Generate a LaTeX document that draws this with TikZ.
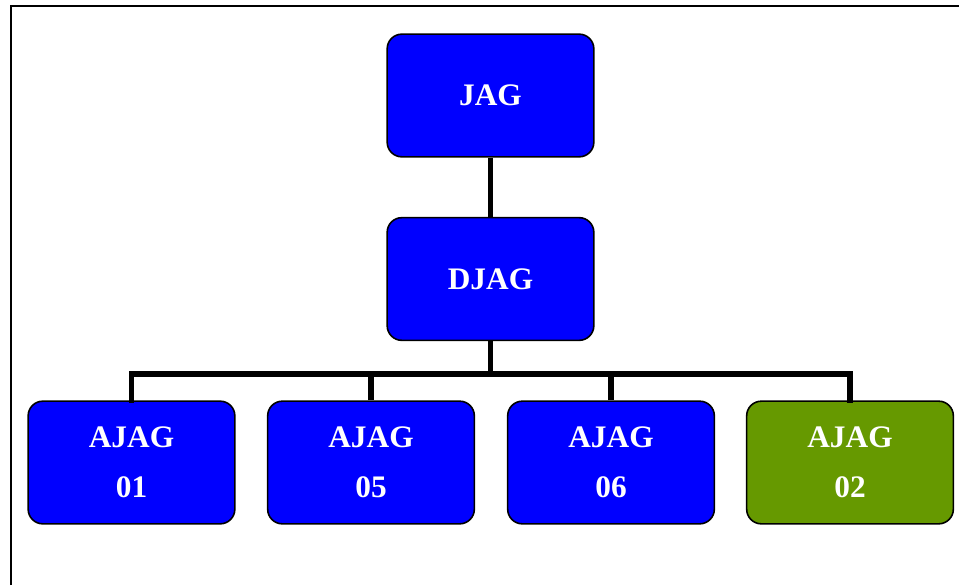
\documentclass[tikz,border=0pt]{standalone}
\usepackage{fontspec}
\setmainfont{Liberation Serif}
\begin{document}
\begin{tikzpicture}[x=0.75pt,y=-0.75pt,
  box/.style={draw=black,line width=1.2pt,rounded corners=11pt,minimum width=155pt,minimum height=92pt,inner sep=0pt,
    text=white,font=\fontsize{23.5}{37.5}\selectfont\bfseries,align=center},
  bluebox/.style={box,fill=blue},
  greenbox/.style={box,fill={rgb,255:red,102;green,153;blue,0}},
  conn/.style={line width=3.8pt}]
\useasboundingbox (0,0) rectangle (959,585);
\draw[line width=1.8pt] (11,585) -- (11,6) -- (959,6);
\node[bluebox] (jag) at (490.5,95.5) {JAG};
\node[bluebox] (djag) at (490.5,279) {DJAG};
\node[bluebox] (a1) at (131.5,462.5) {AJAG\\01};
\node[bluebox] (a5) at (371,462.5) {AJAG\\05};
\node[bluebox] (a6) at (611,462.5) {AJAG\\06};
\node[greenbox] (a2) at (850,462.5) {AJAG\\02};
\coordinate (bus) at (490.5,374);
\draw[conn] (jag.south) -- (djag.north);
\draw[conn] (djag.south) -- (bus);
\draw[conn,line cap=rect] (a1.north) |- (bus) -| (a2.north);
\draw[conn] (a5.north) -- (a5.north |- bus);
\draw[conn] (a6.north) -- (a6.north |- bus);
\end{tikzpicture}
\end{document}
